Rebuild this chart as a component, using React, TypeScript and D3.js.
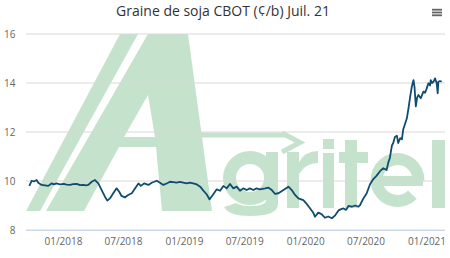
import React from 'react';
import * as d3 from 'd3';

const W = 450;
const H = 258;
const title = 'Graine de soja CBOT (¢/b) Juil. 21';
const yTicks = [8, 10, 12, 14, 16];
const xTickDates = ['2018-01-01', '2018-07-01', '2019-01-01', '2019-07-01', '2020-01-01', '2020-07-01', '2021-01-01'];
const xTickLabels = ['01/2018', '07/2018', '01/2019', '07/2019', '01/2020', '07/2020', '01/2021'];
const xDomain = ['2017-09-10', '2021-02-24'];

const dates = [
  '2017-09-20', '2017-09-27', '2017-10-04', '2017-10-12', '2017-10-17', '2017-10-27', '2017-11-06', '2017-11-16', '2017-11-26', '2017-12-03',
  '2017-12-11', '2017-12-21', '2018-01-02', '2018-01-10', '2018-01-21', '2018-01-30', '2018-02-10', '2018-02-20', '2018-03-02', '2018-03-10',
  '2018-03-17', '2018-03-27', '2018-04-06', '2018-04-16', '2018-04-26', '2018-05-06', '2018-05-13', '2018-05-21', '2018-05-31', '2018-06-10',
  '2018-06-18', '2018-06-25', '2018-07-05', '2018-07-15', '2018-07-26', '2018-08-05', '2018-08-15', '2018-08-22', '2018-09-01', '2018-09-14',
  '2018-09-24', '2018-10-09', '2018-10-19', '2018-10-29', '2018-11-08', '2018-11-18', '2018-11-28', '2018-12-08', '2018-12-18', '2018-12-28',
  '2019-01-07', '2019-01-17', '2019-01-27', '2019-02-07', '2019-02-17', '2019-02-26', '2019-03-09', '2019-03-17', '2019-03-27', '2019-04-08',
  '2019-04-18', '2019-04-28', '2019-05-08', '2019-05-18', '2019-05-28', '2019-06-07', '2019-06-17', '2019-06-27', '2019-07-07', '2019-07-17',
  '2019-07-27', '2019-08-06', '2019-08-16', '2019-09-01', '2019-09-10', '2019-09-21', '2019-10-01', '2019-10-11', '2019-10-26', '2019-11-10',
  '2019-11-20', '2019-11-30', '2019-12-10', '2019-12-25', '2020-01-02', '2020-01-14', '2020-01-24', '2020-01-29', '2020-02-08', '2020-02-18',
  '2020-02-28', '2020-03-09', '2020-03-20', '2020-03-30', '2020-04-09', '2020-04-17', '2020-04-24', '2020-05-02', '2020-05-09', '2020-05-19',
  '2020-05-29', '2020-06-08', '2020-06-13', '2020-06-23', '2020-07-03', '2020-07-13', '2020-07-23', '2020-08-02', '2020-08-12', '2020-08-22',
  '2020-09-01', '2020-09-06', '2020-09-11', '2020-09-17', '2020-09-21', '2020-09-26', '2020-10-02', '2020-10-06', '2020-10-12', '2020-10-17',
  '2020-10-21', '2020-10-27', '2020-11-01', '2020-11-06', '2020-11-11', '2020-11-16', '2020-11-21', '2020-11-24', '2020-11-28', '2020-12-02',
  '2020-12-06', '2020-12-13', '2020-12-21', '2020-12-26', '2020-12-31', '2021-01-05', '2021-01-10', '2021-01-12', '2021-01-16', '2021-01-20',
  '2021-01-25', '2021-01-30', '2021-02-02', '2021-02-04', '2021-02-09', '2021-02-14',
];

const prices = [
  9.80, 10.01, 9.98, 10.04, 9.93, 9.84, 9.82, 9.80, 9.90, 9.86,
  9.90, 9.86, 9.88, 9.85, 9.84, 9.87, 9.88, 9.83, 9.84, 9.82,
  9.84, 9.97, 10.04, 9.90, 9.63, 9.36, 9.20, 9.29, 9.50, 9.70,
  9.56, 9.39, 9.33, 9.43, 9.50, 9.70, 9.90, 9.80, 9.90, 9.84,
  9.93, 10.01, 9.93, 9.84, 9.90, 9.97, 9.95, 9.93, 9.96, 9.93,
  9.90, 9.93, 9.90, 9.86, 9.77, 9.62, 9.45, 9.25, 9.43, 9.66,
  9.60, 9.80, 9.70, 9.88, 9.70, 9.77, 9.60, 9.70, 9.63, 9.70,
  9.63, 9.70, 9.66, 9.70, 9.73, 9.63, 9.47, 9.50, 9.63, 9.77,
  9.63, 9.43, 9.29, 9.22, 9.10, 8.89, 8.70, 8.54, 8.71, 8.65,
  8.50, 8.55, 8.48, 8.60, 8.80, 8.85, 8.88, 8.82, 8.98, 8.95,
  9.00, 8.95, 9.02, 9.29, 9.50, 9.87, 10.08, 10.22, 10.40, 10.52,
  10.45, 10.75, 10.95, 11.45, 11.55, 11.80, 11.85, 11.55, 11.75, 11.70,
  12.10, 12.35, 12.56, 12.97, 13.44, 13.85, 14.12, 13.85, 13.05, 13.40,
  13.51, 13.38, 13.65, 13.60, 13.78, 13.99, 13.90, 14.12, 14.00, 14.05,
  14.19, 13.99, 13.58, 14.05, 14.08, 14.05,
];

const FONT = '"Open Sans", "DejaVu Sans", sans-serif';
const GREEN = '#c5e3cc';

export default function App() {
  const parse = d3.utcParse('%Y-%m-%d');
  const plotLeft = 26;
  const plotRight = 445;
  const plotTop = 34;
  const plotBottom = 230;

  const x = d3.scaleUtc().domain(xDomain.map((d) => parse(d) as Date)).range([plotLeft, plotRight]);
  const y = d3.scaleLinear().domain([8, 16]).range([plotBottom, plotTop]);

  const data = dates.map((d, i) => ({ date: parse(d) as Date, value: prices[i] }));
  const line = d3
    .line<{ date: Date; value: number }>()
    .x((d) => x(d.date))
    .y((d) => y(d.value));

  const arcE = d3.arc()({ innerRadius: 15, outerRadius: 27, startAngle: 2.35, endAngle: 2.35 + 2 * Math.PI - 0.75 }) as string;
  const ringG = d3.arc()({ innerRadius: 14, outerRadius: 27, startAngle: 0, endAngle: 2 * Math.PI }) as string;

  return (
    <svg width={W} height={H} style={{ position: 'absolute', left: 0, top: 0, background: '#fff' }}>
      <rect x={0} y={0} width={W} height={H} fill="#fff" />
      {/* watermark logo */}
      <g fill={GREEN}>
        <path d="M120,34 L138,34 L40,211 L26,211 Z" />
        <path fillRule="evenodd" d="M148,34 L188,34 L212,211 L162,211 L156,147 L119,147 L84,211 L46,211 Z M148,95 L124,137 L155,137 Z" />
        <rect x={200} y={132.5} width={86} height={5} />
        <path d="M282,133 L300,142.5 L282,152" fill="none" stroke={GREEN} strokeWidth={5} />
        {/* g */}
        <path d={ringG} transform="translate(250,178)" />
        <rect x={266} y={152} width={12} height={52} />
        <path d="M278,200 L278,204 Q278,216 250,216 Q229,216 224,207 L236,203 Q240,206 250,206 Q266,206 266,200 Z" />
        {/* r */}
        <rect x={287} y={152} width={12} height={56} />
        <path d="M299,162 Q305,151 318,151 L318,163 Q306,163 299,174 Z" />
        {/* i */}
        <rect x={323} y={153} width={11} height={55} />
        <rect x={323} y={139} width={11} height={10} />
        {/* t */}
        <rect x={345} y={140} width={12} height={68} />
        <rect x={339} y={152} width={29} height={11} />
        {/* e */}
        <path d={arcE} transform="translate(397.5,180)" />
        <rect x={372} y={176} width={51} height={10} />
        {/* l */}
        <rect x={432} y={140} width={13} height={68} />
      </g>

      {/* grid lines */}
      {yTicks.map((t) => (
        <line key={t} x1={plotLeft} x2={plotRight} y1={y(t)} y2={y(t)} stroke="#d8d8d8" strokeWidth={1} />
      ))}
      <line x1={plotLeft} x2={plotRight} y1={plotBottom + 0.5} y2={plotBottom + 0.5} stroke="#ccd6eb" strokeWidth={1} />

      {/* y labels */}
      {yTicks.map((t) => (
        <text key={t} x={15.5} y={y(t)} dy="0.35em" textAnchor="end" fontSize={10} fill="#666" fontFamily={FONT}>
          {t}
        </text>
      ))}

      {/* x labels */}
      {xTickDates.map((d, i) => (
        <text key={d} x={x(parse(d) as Date)} y={245} textAnchor="middle" fontSize={10} fill="#666" fontFamily={FONT}>
          {xTickLabels[i]}
        </text>
      ))}

      {/* series */}
      <path d={line(data) as string} fill="none" stroke="#0f4c6e" strokeWidth={1.8} strokeLinejoin="round" />

      {/* title */}
      <text x={223} y={15.5} textAnchor="middle" fontSize={14} fill="#333" fontFamily={FONT}>
        {title}
      </text>

      {/* menu icon */}
      <g fill="#666">
        <rect x={432} y={8.8} width={10} height={1.8} />
        <rect x={432} y={11.6} width={10} height={1.8} />
        <rect x={432} y={14.4} width={10} height={1.8} />
      </g>
    </svg>
  );
}
